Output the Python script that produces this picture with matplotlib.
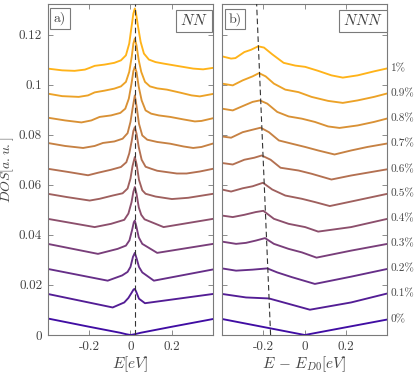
import matplotlib
matplotlib.use("Agg")
import matplotlib.pyplot as plt
import matplotlib.transforms as mtransforms
import numpy as np

plt.rcParams['font.family'] = ['cmr10', 'DejaVu Serif']
plt.rcParams['mathtext.fontset'] = 'cm'
plt.rcParams['axes.unicode_minus'] = False
plt.rcParams['axes.formatter.use_mathtext'] = True

# ---------------- data ----------------
strain_labels = ['0%', '0.1%', '0.2%', '0.3%', '0.4%', '0.5%', '0.6%', '0.7%', '0.8%', '0.9%', '1%']

# Panel a) NN  (offset DOS curves)
nn_x0 = [-0.40, -0.2, -0.05, -0.02, 0.0, 0.02, 0.05, 0.2, 0.40]
nn_y0 = [0.0066, 0.0033, 0.0009, 0.0003, 0.0, 0.0003, 0.0009, 0.0033, 0.0064]
nn_x1 = [-0.40, -0.086, -0.03, -0.01, 0.005, 0.015, 0.021, 0.028, 0.041, 0.07, 0.40]
nn_y1 = [0.0164, 0.0110, 0.0130, 0.0148, 0.0168, 0.0182, 0.0184, 0.0172, 0.0145, 0.0127, 0.0164]
nn_x2 = [-0.40, -0.11, -0.04, -0.014, 0.0, 0.012, 0.021, 0.030, 0.041, 0.057, 0.113, 0.40]
nn_y2 = [0.0264, 0.0217, 0.0238, 0.0252, 0.0272, 0.0312, 0.0328, 0.0305, 0.0272, 0.0250, 0.0217, 0.0262]
nn_x3 = [-0.40, -0.157, -0.062, -0.022, -0.005, 0.008, 0.016, 0.021, 0.028, 0.040, 0.057, 0.129, 0.40]
nn_y3 = [0.0364, 0.0324, 0.0344, 0.0357, 0.0378, 0.0420, 0.0450, 0.0457, 0.0435, 0.0390, 0.0364, 0.0328, 0.0364]
nn_x4 = [-0.40, -0.173, -0.094, -0.03, -0.01, 0.005, 0.014, 0.021, 0.029, 0.040, 0.052, 0.068, 0.16, 0.40]
nn_y4 = [0.0464, 0.0431, 0.0444, 0.0460, 0.0485, 0.0530, 0.0572, 0.0591, 0.0565, 0.0510, 0.0480, 0.0462, 0.0431, 0.0464]
nn_x5 = [-0.40, -0.308, -0.197, -0.149, -0.086, -0.038, -0.014, 0.0, 0.010, 0.021, 0.030, 0.041, 0.057, 0.073, 0.121, 0.20, 0.279, 0.40]
nn_y5 = [0.0564, 0.0551, 0.0537, 0.0544, 0.0557, 0.0566, 0.0585, 0.0625, 0.0675, 0.0711, 0.0680, 0.0620, 0.0578, 0.0564, 0.0553, 0.0543, 0.0548, 0.0564]
nn_x6 = [-0.40, -0.30, -0.205, -0.157, -0.094, -0.046, -0.02, -0.006, 0.006, 0.014, 0.021, 0.029, 0.040, 0.054, 0.073, 0.10, 0.129, 0.224, 0.271, 0.335, 0.40]
nn_y6 = [0.0664, 0.0651, 0.0638, 0.0648, 0.0660, 0.0671, 0.0690, 0.0725, 0.0775, 0.0815, 0.0830, 0.0805, 0.0750, 0.0700, 0.0672, 0.0664, 0.0656, 0.0645, 0.0645, 0.0653, 0.0664]
nn_x7 = [-0.40, -0.316, -0.229, -0.173, -0.133, -0.078, -0.038, -0.014, 0.0, 0.010, 0.021, 0.030, 0.041, 0.057, 0.081, 0.129, 0.192, 0.256, 0.303, 0.343, 0.40]
nn_y7 = [0.0767, 0.0755, 0.0747, 0.0755, 0.0767, 0.0773, 0.0784, 0.0806, 0.0851, 0.0904, 0.0957, 0.0911, 0.0844, 0.0797, 0.0780, 0.0771, 0.0764, 0.0753, 0.0747, 0.0751, 0.0765]
nn_x8 = [-0.40, -0.316, -0.237, -0.189, -0.149, -0.094, -0.049, -0.025, -0.008, 0.005, 0.014, 0.021, 0.029, 0.040, 0.054, 0.073, 0.10, 0.137, 0.192, 0.256, 0.311, 0.343, 0.40]
nn_y8 = [0.0868, 0.0857, 0.0849, 0.0857, 0.0871, 0.0877, 0.0887, 0.0904, 0.0944, 0.1004, 0.1054, 0.1071, 0.1051, 0.0991, 0.0937, 0.0897, 0.0884, 0.0877, 0.0871, 0.0861, 0.0853, 0.0855, 0.0866]
nn_x9 = [-0.40, -0.33, -0.25, -0.205, -0.173, -0.125, -0.078, -0.046, -0.022, -0.006, 0.006, 0.014, 0.021, 0.029, 0.040, 0.052, 0.070, 0.094, 0.129, 0.176, 0.240, 0.295, 0.335, 0.40]
nn_y9 = [0.0964, 0.0954, 0.0951, 0.0957, 0.0969, 0.0976, 0.0984, 0.0993, 0.1011, 0.1051, 0.1111, 0.1164, 0.1184, 0.1157, 0.1097, 0.1051, 0.1011, 0.0993, 0.0985, 0.0980, 0.0968, 0.0957, 0.0953, 0.0963]
nn_x10 = [-0.40, -0.33, -0.27, -0.22, -0.197, -0.173, -0.125, -0.078, -0.046, -0.022, -0.006, 0.005, 0.014, 0.021, 0.027, 0.037, 0.049, 0.065, 0.089, 0.121, 0.16, 0.224, 0.303, 0.351, 0.40]
nn_y10 = [0.1064, 0.1057, 0.1055, 0.1060, 0.1067, 0.1075, 0.1080, 0.1087, 0.1097, 0.1117, 0.1164, 0.1230, 0.1284, 0.1304, 0.1284, 0.1230, 0.1171, 0.1124, 0.1100, 0.1090, 0.1084, 0.1075, 0.1064, 0.1061, 0.1067]

# Panel b) NNN
nnn_x0 = [-0.40, 0.0, 0.40]
nnn_y0 = [0.0064, 0.0, 0.0062]
nnn_x1 = [-0.40, -0.284, -0.173, -0.133, 0.025, 0.224, 0.40]
nnn_y1 = [0.0164, 0.0150, 0.0146, 0.0137, 0.0101, 0.0130, 0.0166]
nnn_x2 = [-0.40, -0.332, -0.252, -0.181, -0.133, -0.062, 0.049, 0.224, 0.40]
nnn_y2 = [0.0266, 0.0257, 0.0261, 0.0266, 0.0250, 0.0231, 0.0204, 0.0233, 0.0264]
nnn_x3 = [-0.40, -0.332, -0.284, -0.237, -0.192, -0.149, -0.078, -0.014, 0.057, 0.224, 0.40]
nnn_y3 = [0.0373, 0.0364, 0.0368, 0.0377, 0.0387, 0.0364, 0.0344, 0.0330, 0.0309, 0.0337, 0.0364]
nnn_x4 = [-0.40, -0.348, -0.292, -0.237, -0.200, -0.149, -0.078, 0.002, 0.065, 0.224, 0.40]
nnn_y4 = [0.0477, 0.0471, 0.0480, 0.0491, 0.0496, 0.0464, 0.0444, 0.0431, 0.0413, 0.0431, 0.0464]
nnn_x5 = [-0.40, -0.356, -0.30, -0.252, -0.202, -0.157, -0.094, -0.014, 0.049, 0.121, 0.224, 0.40]
nnn_y5 = [0.0581, 0.0573, 0.0586, 0.0594, 0.0608, 0.0581, 0.0557, 0.0544, 0.0531, 0.0515, 0.0533, 0.0564]
nnn_x6 = [-0.40, -0.348, -0.292, -0.244, -0.208, -0.165, -0.117, -0.03, 0.033, 0.129, 0.224, 0.40]
nnn_y6 = [0.0687, 0.0681, 0.0700, 0.0708, 0.0717, 0.0700, 0.0668, 0.0657, 0.0644, 0.0621, 0.0637, 0.0662]
nnn_x7 = [-0.40, -0.356, -0.30, -0.252, -0.213, -0.173, -0.125, -0.062, 0.002, 0.065, 0.144, 0.224, 0.303, 0.40]
nnn_y7 = [0.0793, 0.0788, 0.0810, 0.0820, 0.0828, 0.0810, 0.0777, 0.0764, 0.0751, 0.0737, 0.0721, 0.0737, 0.0751, 0.0765]
nnn_x8 = [-0.40, -0.348, -0.292, -0.252, -0.217, -0.181, -0.133, -0.078, -0.014, 0.049, 0.113, 0.168, 0.256, 0.335, 0.40]
nnn_y8 = [0.0904, 0.0897, 0.0917, 0.0931, 0.0937, 0.0924, 0.0891, 0.0873, 0.0864, 0.0851, 0.0833, 0.0827, 0.0837, 0.0851, 0.0865]
nnn_x9 = [-0.40, -0.348, -0.30, -0.252, -0.221, -0.189, -0.149, -0.094, -0.03, 0.033, 0.113, 0.184, 0.256, 0.335, 0.40]
nnn_y9 = [0.1004, 0.0997, 0.1017, 0.1033, 0.1046, 0.1033, 0.1004, 0.0980, 0.0970, 0.0951, 0.0935, 0.0927, 0.0937, 0.0951, 0.0965]
nnn_x10 = [-0.40, -0.356, -0.335, -0.292, -0.26, -0.225, -0.197, -0.157, -0.102, -0.046, 0.002, 0.065, 0.129, 0.184, 0.256, 0.335, 0.40]
nnn_y10 = [0.1113, 0.1104, 0.1106, 0.1130, 0.1139, 0.1153, 0.1148, 0.1121, 0.1087, 0.1076, 0.1071, 0.1055, 0.1037, 0.1028, 0.1037, 0.1053, 0.1065]

# guide lines through the peaks
nn_peak_x = [0.02, 0.02]
nn_peak_y = [0.0, 0.1322]
nnn_peak_x = [-0.165, -0.2325]
nnn_peak_y = [0.0, 0.1322]

xticks = [-0.2, 0.0, 0.2]
xtick_labels = ['-0.2', '0', '0.2']
yticks = [0.0, 0.02, 0.04, 0.06, 0.08, 0.10, 0.12]
ytick_labels = ['0', '0.02', '0.04', '0.06', '0.08', '0.1', '0.12']

nn_curves = [(nn_x0, nn_y0), (nn_x1, nn_y1), (nn_x2, nn_y2), (nn_x3, nn_y3), (nn_x4, nn_y4),
             (nn_x5, nn_y5), (nn_x6, nn_y6), (nn_x7, nn_y7), (nn_x8, nn_y8), (nn_x9, nn_y9),
             (nn_x10, nn_y10)]
nnn_curves = [(nnn_x0, nnn_y0), (nnn_x1, nnn_y1), (nnn_x2, nnn_y2), (nnn_x3, nnn_y3), (nnn_x4, nnn_y4),
              (nnn_x5, nnn_y5), (nnn_x6, nnn_y6), (nnn_x7, nnn_y7), (nnn_x8, nnn_y8), (nnn_x9, nnn_y9),
              (nnn_x10, nnn_y10)]

# ---------------- styling ----------------
c_lo = np.array([0.25, 0.05, 0.64])
c_hi = np.array([1.00, 0.70, 0.10])
n = len(strain_labels)
colors = [tuple(c_lo + (c_hi - c_lo) * i / (n - 1)) for i in range(n)]

spine_col = '#7a7a7a'
text_col = '#444444'

fig = plt.figure(figsize=(4.15, 3.77), dpi=100)
axL = fig.add_axes([0.1149, 0.1114, 0.3990, 0.8780])
axR = fig.add_axes([0.5349, 0.1114, 0.3988, 0.8780])

for ax, curves in ((axL, nn_curves), (axR, nnn_curves)):
    for i, (xs, ys) in enumerate(curves):
        ax.plot(xs, ys, color=colors[i], lw=1.35, solid_joinstyle='round', zorder=2)
    ax.set_xlim(-0.4, 0.4)
    ax.set_ylim(0, 0.1322)
    ax.set_xticks(xticks)
    ax.set_xticklabels(xtick_labels)
    ax.set_yticks(yticks)
    ax.set_yticklabels(ytick_labels)
    ax.tick_params(direction='in', top=True, right=True, length=3.5, width=0.6,
                   color=spine_col, labelcolor=text_col, labelsize=9.5, pad=4)
    for sp in ax.spines.values():
        sp.set_color(spine_col)
        sp.set_linewidth(0.8)

axR.tick_params(labelleft=False)

axL.plot(nn_peak_x, nn_peak_y, color='#333333', lw=0.8, ls=(0, (5, 3)), zorder=3)
axR.plot(nnn_peak_x, nnn_peak_y, color='#333333', lw=0.8, ls=(0, (5, 3)), zorder=3)

axL.set_ylabel('$DOS[a.u.]$', fontsize=10, color=text_col)
axL.yaxis.set_label_coords(-0.19, 0.5)
axL.set_xlabel('$E[eV]$', fontsize=11, color=text_col)
axL.xaxis.set_label_coords(0.5, -0.058)
axR.set_xlabel(r'$E\, -\, E_{D0}[eV]$', fontsize=11, color=text_col)
axR.xaxis.set_label_coords(0.5, -0.058)

box = dict(boxstyle='square,pad=0.25', fc='white', ec=spine_col, lw=0.8)
axL.text(0.074, 0.956, 'a)', transform=axL.transAxes, ha='center', va='center',
         fontsize=10, color=text_col, bbox=box)
axL.text(0.883, 0.949, '$NN$', transform=axL.transAxes, ha='center', va='center',
         fontsize=11, color=text_col, bbox=box)
axR.text(0.077, 0.955, 'b)', transform=axR.transAxes, ha='center', va='center',
         fontsize=10, color=text_col, bbox=box)
axR.text(0.853, 0.949, '$NNN$', transform=axR.transAxes, ha='center', va='center',
         fontsize=11, color=text_col, bbox=box)

trans = mtransforms.blended_transform_factory(axR.transAxes, axR.transData)
for i, (xs, ys) in enumerate(nnn_curves):
    axR.text(1.02, ys[-1], strain_labels[i], transform=trans, ha='left', va='center',
             fontsize=8.1, color=text_col, clip_on=False)

fig.savefig('out.png', dpi=100)
